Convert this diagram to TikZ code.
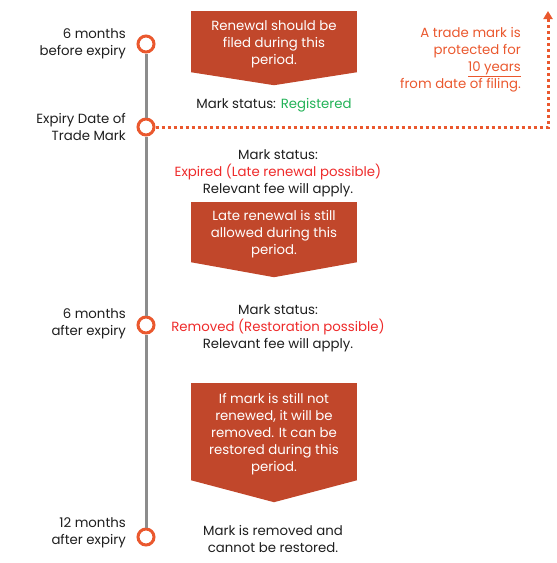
\documentclass[tikz,border=0pt]{standalone}
\usepackage{fontspec}
\setmainfont{Poppins}
\usetikzlibrary{positioning,calc,arrows.meta}
\definecolor{boxred}{HTML}{C1472B}
\definecolor{dotorange}{HTML}{EA582E}
\definecolor{statred}{HTML}{EE2A2A}
\definecolor{statgreen}{HTML}{22B257}
\definecolor{linegray}{HTML}{8C8C8C}
\definecolor{txt}{HTML}{1E1E1E}

\begin{document}
\begin{tikzpicture}[x=1pt, y=-1pt, >=Stealth,
    every node/.style={font=\fontsize{13.3}{17}\selectfont, text=txt, align=center, inner sep=0pt},
    stop/.style={circle, draw=dotorange, line width=3pt, fill=white, minimum size=16pt},
    when/.style={align=right, anchor=east},
    period/.style={fill=boxred, minimum width=166pt},
    periodtext/.style={text=white, yshift=-2.5pt},
    timeline/.style={linegray, line width=3pt},
    dotline/.style={dotorange, line width=3pt, dash pattern=on 3pt off 3pt}]
    \useasboundingbox (0,0) rectangle (557,563);

    % Stops on the timeline
    \node[stop] (t0) at (146, 44) {};
    \node[stop] (t1) at (146, 127) {};
    \node[stop] (t2) at (146, 325) {};
    \node[stop] (t3) at (146, 537) {};

    % Timeline
    \draw[timeline] (t0) -- (t1);
    \draw[timeline] (t1) -- (t2);
    \draw[timeline] (t2) -- (t3);

    % Labels left of the stops
    \node[when] (w0) at (126, 44) {6 months\\before expiry};
    \node[when] (w1) at (126, 127) {Expiry Date of\\Trade Mark};
    \node[when] (w2) at (126, 324) {6 months\\after expiry};
    \node[when] (w3) at (126, 533) {12 months\\after expiry};

    % Period boxes
    \node[period, minimum height=61pt, label={[periodtext]center:{Renewal should be\\filed during this\\period.}}] (b1) at (274, 41.5) {};
    \fill[boxred] (b1.south west) -- (b1.south east) -- ($(b1.south)+(0,13)$) -- cycle;
    \node[period, minimum height=60pt, label={[periodtext]center:{Late renewal is still\\allowed during this\\period.}}] (b2) at (274, 232) {};
    \fill[boxred] (b2.south west) -- (b2.south east) -- ($(b2.south)+(0,15)$) -- cycle;
    \node[period, minimum height=97pt, label={[periodtext]center:{If mark is still not\\renewed, it will be\\removed. It can be\\restored during this\\period.}}] (b3) at (274, 431.5) {};
    \fill[boxred] (b3.south west) -- (b3.south east) -- ($(b3.south)+(0,22)$) -- cycle;

    % Mark status
    \node (s1) at (274, 105) {Mark status: \textcolor{statgreen}{Registered}};
    \node (s2) at (278, 173) {Mark status:\\\textcolor{statred}{Expired (Late renewal possible)}\\Relevant fee will apply.};
    \node (s3) at (278, 328) {Mark status:\\\textcolor{statred}{Removed (Restoration possible)}\\Relevant fee will apply.};
    \node (s4) at (273, 539) {Mark is removed and\\cannot be restored.};

    % Protection term
    \coordinate (corner) at (548, 127);
    \coordinate (tip) at (548, 11);
    \draw[dotline, -{Triangle[length=8pt, width=9pt]}] (t1) -- (corner) -- (tip);
    \node[when, text=dotorange] (term) at (521, 59.5) {A trade mark is\\protected for\\\underline{10 years}\\from date of filing.};
\end{tikzpicture}
\end{document}
